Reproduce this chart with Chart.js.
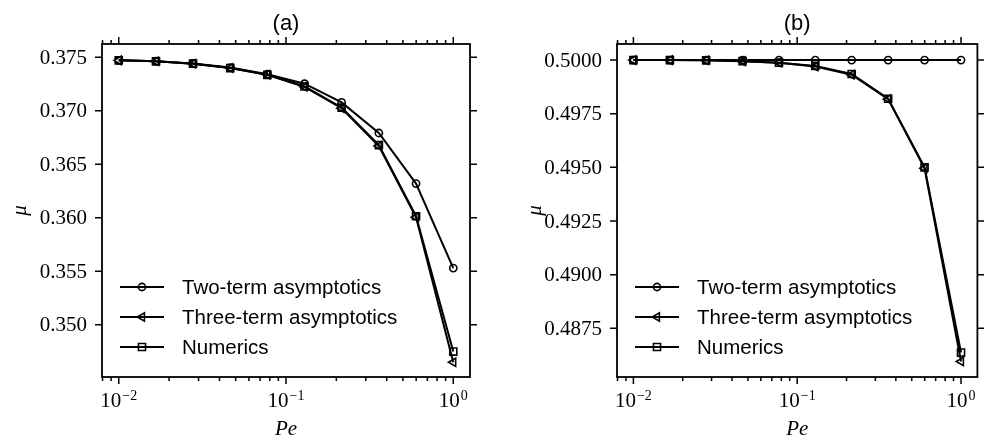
<!DOCTYPE html>
<html>
<head>
<meta charset="utf-8">
<script src="https://cdn.jsdelivr.net/npm/chart.js@4.4.1/dist/chart.umd.min.js"></script>
<style>
html,body{margin:0;padding:0;background:#fff;}
#wrap{position:relative;width:984px;height:441px;overflow:hidden;}
.panel{position:absolute;top:0;width:492px;height:441px;}
</style>
</head>
<body>
<div id="wrap">
  <div class="panel" style="left:0"><canvas id="chartA" width="492" height="441"></canvas></div>
  <div class="panel" style="left:492px"><canvas id="chartB" width="492" height="441"></canvas></div>
</div>
<script>
// Pe values (log spaced)
const pe = [0.01, 0.0167, 0.0278, 0.0464, 0.0774, 0.129, 0.215, 0.359, 0.599, 1.0];

// panel (a)
const twoTermA   = [0.37472, 0.37464, 0.37443, 0.37405, 0.37342, 0.37254, 0.37079, 0.36793, 0.36320, 0.35530];
const threeTermA = [0.37472, 0.37463, 0.37441, 0.37400, 0.37337, 0.37225, 0.37025, 0.36672, 0.36005, 0.34650];
const numericsA  = [0.37472, 0.37463, 0.37441, 0.37400, 0.37337, 0.37228, 0.37030, 0.36680, 0.36015, 0.34750];

// panel (b)
const twoTermB   = [0.5, 0.5, 0.5, 0.5, 0.5, 0.5, 0.5, 0.5, 0.5, 0.5];
const threeTermB = [0.50000, 0.50000, 0.49999, 0.49995, 0.49988, 0.49970, 0.49932, 0.49818, 0.49496, 0.48595];
const numericsB  = [0.50000, 0.50000, 0.49999, 0.49995, 0.49988, 0.49973, 0.49935, 0.49820, 0.49500, 0.48637];

const seriesNames = ['Two-term asymptotics', 'Three-term asymptotics', 'Numerics'];

// ticks
const xMajor = [0.01, 0.1, 1];
const xMajorExp = [-2, -1, 0];
const yTicksA = [0.350, 0.355, 0.360, 0.365, 0.370, 0.375];
const yLabelsA = ['0.350', '0.355', '0.360', '0.365', '0.370', '0.375'];
const yTicksB = [0.4875, 0.4900, 0.4925, 0.4950, 0.4975, 0.5000];
const yLabelsB = ['0.4875', '0.4900', '0.4925', '0.4950', '0.4975', '0.5000'];

const SERIF = '"Liberation Serif", "DejaVu Serif", serif';
const SANS = '"Liberation Sans", Arial, sans-serif';

const markers = [
  {pointStyle: 'circle', pointRadius: 3.6, pointRotation: 0},
  {pointStyle: 'triangle', pointRadius: 4.8, pointRotation: -90},
  {pointStyle: 'rect', pointRadius: 5, pointRotation: 0}
];

function minorTicks(min, max){
  const out = [];
  for(let d = -3; d <= 0; d++){
    for(let m = 2; m <= 9; m++){
      const v = m * Math.pow(10, d);
      if(v >= min && v <= max) out.push(v);
    }
  }
  return out;
}

function drawMarker(ctx, style, r, rot, x, y){
  ctx.beginPath();
  if(style === 'circle'){
    ctx.arc(x, y, r, 0, Math.PI*2);
  } else if(style === 'triangle'){
    let a = rot * Math.PI / 180;
    ctx.moveTo(x + Math.sin(a)*r, y - Math.cos(a)*r);
    a += Math.PI*2/3; ctx.lineTo(x + Math.sin(a)*r, y - Math.cos(a)*r);
    a += Math.PI*2/3; ctx.lineTo(x + Math.sin(a)*r, y - Math.cos(a)*r);
    ctx.closePath();
  } else {
    const s = r * Math.SQRT1_2;
    ctx.rect(x - s, y - s, 2*s, 2*s);
  }
  ctx.stroke();
}

const decor = {
  id: 'decor',
  afterDraw(chart, args, o){
    const {ctx, chartArea: a, scales: {x, y}} = chart;
    ctx.save();
    ctx.strokeStyle = '#000';
    ctx.fillStyle = '#000';

    // frame
    ctx.lineWidth = 1.8;
    ctx.strokeRect(a.left, a.top, a.right - a.left, a.bottom - a.top);

    // x ticks, bottom + top, outward
    ctx.lineWidth = 1.5;
    ctx.beginPath();
    xMajor.forEach(v => {
      const px = x.getPixelForValue(v);
      ctx.moveTo(px, a.bottom); ctx.lineTo(px, a.bottom + 7);
      ctx.moveTo(px, a.top); ctx.lineTo(px, a.top - 7);
    });
    minorTicks(x.min, x.max).forEach(v => {
      const px = x.getPixelForValue(v);
      ctx.moveTo(px, a.bottom); ctx.lineTo(px, a.bottom + 4);
      ctx.moveTo(px, a.top); ctx.lineTo(px, a.top - 4);
    });
    // y ticks, left + right, outward
    o.yTicks.forEach(v => {
      const py = y.getPixelForValue(v);
      ctx.moveTo(a.left, py); ctx.lineTo(a.left - 7, py);
      ctx.moveTo(a.right, py); ctx.lineTo(a.right + 7, py);
    });
    ctx.stroke();

    // y tick labels
    ctx.font = '21px ' + SERIF;
    ctx.textAlign = 'right';
    ctx.textBaseline = 'middle';
    o.yTicks.forEach((v, i) => {
      ctx.fillText(o.yLabels[i], a.left - 15, y.getPixelForValue(v) + 1);
    });

    // x tick labels 10^n
    ctx.textAlign = 'left';
    ctx.textBaseline = 'alphabetic';
    xMajor.forEach((v, i) => {
      const px = x.getPixelForValue(v);
      const e = xMajorExp[i];
      const sup = e < 0 ? '\u2212' + (-e) : String(e);
      ctx.font = '21px ' + SERIF;
      const wb = ctx.measureText('10').width;
      ctx.font = '14px ' + SERIF;
      const ws = ctx.measureText(sup).width;
      const x0 = px - (wb + ws + 1) / 2;
      ctx.font = '21px ' + SERIF;
      ctx.fillText('10', x0, a.bottom + 30);
      ctx.font = '14px ' + SERIF;
      ctx.fillText(sup, x0 + wb + 1, a.bottom + 23);
    });

    // axis labels
    const cx = (a.left + a.right) / 2;
    ctx.textAlign = 'center';
    ctx.font = 'italic 21px ' + SERIF;
    ctx.fillText('Pe', cx, a.bottom + 58);
    ctx.save();
    ctx.translate(a.left - 82, (a.top + a.bottom) / 2);
    ctx.rotate(-Math.PI / 2);
    ctx.textBaseline = 'middle';
    ctx.fillText('\u03bc', 0, 0);
    ctx.restore();

    // title
    ctx.font = '22px ' + SANS;
    ctx.textBaseline = 'alphabetic';
    ctx.fillText(o.title, cx, 30);

    // legend
    ctx.textAlign = 'left';
    ctx.textBaseline = 'middle';
    ctx.font = '20.5px ' + SANS;
    seriesNames.forEach((name, i) => {
      const ly = 287 + i * 30;
      const x1 = a.left + 18, x2 = a.left + 62;
      ctx.lineWidth = 2;
      ctx.beginPath(); ctx.moveTo(x1, ly); ctx.lineTo(x2, ly); ctx.stroke();
      ctx.lineWidth = 1.6;
      const m = markers[i];
      drawMarker(ctx, m.pointStyle, m.pointRadius, m.pointRotation, (x1 + x2) / 2, ly);
      ctx.fillText(name, a.left + 80, ly + 1);
    });
    ctx.restore();
  }
};

function makeDatasets(lists){
  return lists.map((vals, i) => Object.assign({
    label: seriesNames[i],
    data: pe.map((p, j) => ({x: p, y: vals[j]})),
    borderColor: '#000',
    borderWidth: 2,
    backgroundColor: 'rgba(0,0,0,0)',
    pointBackgroundColor: 'rgba(0,0,0,0)',
    pointBorderColor: '#000',
    pointBorderWidth: 1.6,
    tension: 0
  }, markers[i]));
}

function makeChart(id, lists, yMin, yMax, padding, title, yTicks, yLabels){
  return new Chart(document.getElementById(id), {
    type: 'line',
    data: {datasets: makeDatasets(lists)},
    options: {
      responsive: false,
      animation: false,
      events: [],
      layout: {padding},
      scales: {
        x: {type: 'logarithmic', min: 0.00794, max: 1.259, display: false},
        y: {type: 'linear', min: yMin, max: yMax, display: false}
      },
      plugins: {
        legend: {display: false},
        tooltip: {enabled: false},
        decor: {title, yTicks, yLabels}
      }
    },
    plugins: [decor]
  });
}

makeChart('chartA', [twoTermA, threeTermA, numericsA], 0.34512, 0.37625,
  {left: 102, right: 22, top: 44, bottom: 64}, '(a)', yTicksA, yLabelsA);
makeChart('chartB', [twoTermB, threeTermB, numericsB], 0.48523, 0.50075,
  {left: 125, right: 1, top: 44, bottom: 64}, '(b)', yTicksB, yLabelsB);
</script>
</body>
</html>
